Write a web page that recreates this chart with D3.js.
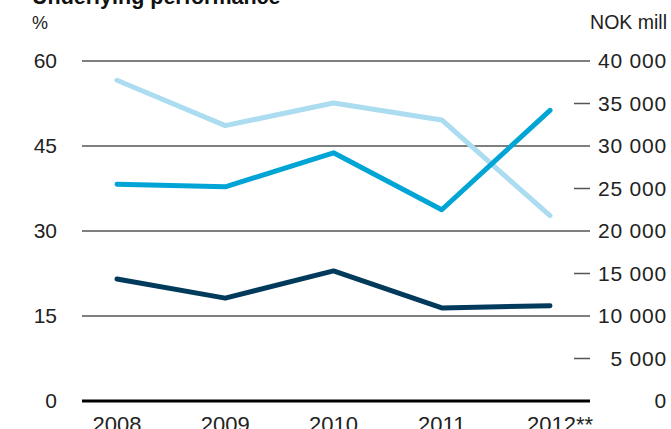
<!DOCTYPE html>
<html>
<head>
<meta charset="utf-8">
<script src="https://cdn.jsdelivr.net/npm/d3@7"></script>
<style>
  body { margin: 0; background: #fff; }
  svg { display: block; font-family: "Liberation Sans", Arial, sans-serif; }
</style>
</head>
<body>
<script>
// data
const years = ['2008', '2009', '2010', '2011', '2012**']
const revenue = [25500, 25200, 29200, 22500, 34200]   // NOK mill, right axis
const ebitda = [14350, 12100, 15300, 10950, 11200]    // NOK mill, right axis
const margin = [56.6, 48.6, 52.6, 49.6, 32.7]         // %, left axis
const leftTicks = [0, 15, 30, 45, 60]
const rightTicks = [0, 5000, 10000, 15000, 20000, 25000, 30000, 35000, 40000]

let w = 671,
    h = 429

let svg = d3.select('body').append('svg')
    .attr('width', w)
    .attr('height', h)

let x = d3.scalePoint().domain(years).range([117, 550])
let yL = d3.scaleLinear().domain([0, 60]).range([401, 61])
let yR = d3.scaleLinear().domain([0, 40000]).range([401, 61])

const fmt = v => d3.format(',')(v).replace(/,/g, ' ')

// title and units
svg.append('text')
    .attr('x', 32).attr('y', 4)
    .attr('font-size', 21.5).attr('font-weight', 'bold')
    .attr('fill', '#111')
    .text('Underlying performance')
svg.append('text')
    .attr('x', 32).attr('y', 29)
    .attr('font-size', 18).attr('fill', '#222')
    .text('%')
svg.append('text')
    .attr('x', 667).attr('y', 29)
    .attr('text-anchor', 'end')
    .attr('font-size', 19.5).attr('fill', '#222')
    .text('NOK mill')

// grid lines (every 15 % / 10 000) and short ticks in between
svg.selectAll('.grid')
    .data(rightTicks.filter(d => d > 0))
    .enter().append('line')
    .attr('x1', d => d % 10000 == 0 ? 82 : 574)
    .attr('x2', 590)
    .attr('y1', d => yR(d)).attr('y2', d => yR(d))
    .attr('stroke', '#555')
    .attr('stroke-width', 1.5)

// left labels
svg.selectAll('.lt')
    .data(leftTicks)
    .enter().append('text')
    .attr('x', 57)
    .attr('y', d => yL(d) + 7)
    .attr('text-anchor', 'end')
    .attr('font-size', 21).attr('fill', '#222')
    .text(d => d)

// right labels
svg.selectAll('.rt')
    .data(rightTicks)
    .enter().append('text')
    .attr('x', 667)
    .attr('y', d => yR(d) + 7)
    .attr('text-anchor', 'end')
    .attr('font-size', 21).attr('fill', '#222')
    .attr('letter-spacing', 0.8)
    .text(d => fmt(d))

// x labels
svg.selectAll('.xl')
    .data(years)
    .enter().append('text')
    .attr('x', d => x(d) + (d.endsWith('**') ? 10 : 0))
    .attr('y', 432)
    .attr('text-anchor', 'middle')
    .attr('font-size', 22).attr('fill', '#222')
    .text(d => d)

// lines
let lineR = d3.line().x((d, i) => x(years[i])).y(d => yR(d))
let lineL = d3.line().x((d, i) => x(years[i])).y(d => yL(d))

svg.append('path').datum(margin)
    .attr('d', lineL)
    .attr('fill', 'none').attr('stroke', '#abdcf0')
    .attr('stroke-width', 5).attr('stroke-linecap', 'round').attr('stroke-linejoin', 'round')
svg.append('path').datum(revenue)
    .attr('d', lineR)
    .attr('fill', 'none').attr('stroke', '#00a5d5')
    .attr('stroke-width', 5).attr('stroke-linecap', 'round').attr('stroke-linejoin', 'round')
svg.append('path').datum(ebitda)
    .attr('d', lineR)
    .attr('fill', 'none').attr('stroke', '#023a5c')
    .attr('stroke-width', 5).attr('stroke-linecap', 'round').attr('stroke-linejoin', 'round')

// baseline
svg.append('line')
    .attr('x1', 82).attr('x2', 590)
    .attr('y1', yR(0)).attr('y2', yR(0))
    .attr('stroke', '#000').attr('stroke-width', 3)
</script>
</body>
</html>
